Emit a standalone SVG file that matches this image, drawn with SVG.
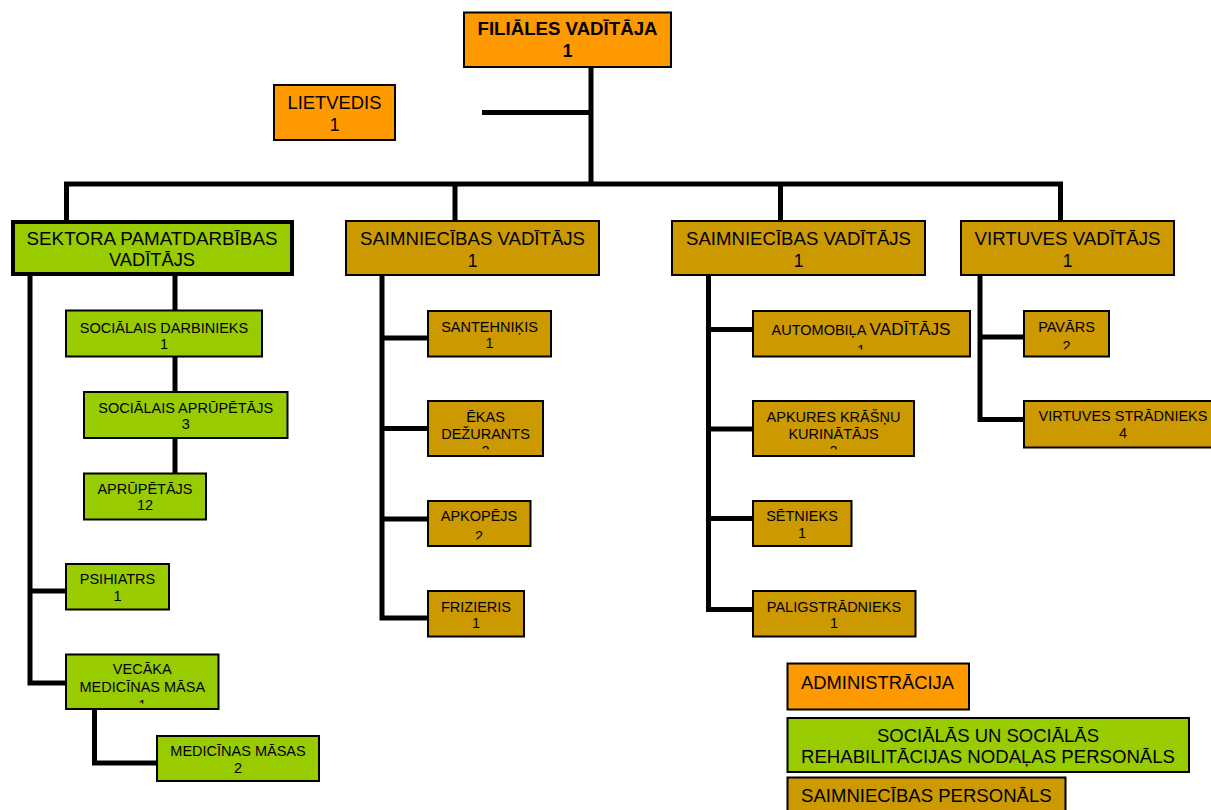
<svg xmlns="http://www.w3.org/2000/svg" width="1211" height="810" viewBox="0 0 1211 810">
<style>
  text { font-family: "Liberation Sans", Arial, sans-serif; fill: #000; text-anchor: middle; }
  .s { font-size: 14.5px; }
  .l { font-size: 17.5px; }
  .b { font-weight: bold; }
  .st { text-anchor: start; }
  .box { stroke: #000; stroke-width: 2; }
  .adm { fill: #FF9900; }
  .soc { fill: #99CC00; }
  .sai { fill: #CC9900; }
  .con { fill: none; stroke: #000; stroke-width: 5; stroke-linejoin: miter; stroke-linecap: butt; }
</style>
<defs>
  <clipPath id="cVec"><rect x="66" y="654" width="153" height="49.5"/></clipPath>
  <clipPath id="cEkas"><rect x="428" y="401" width="115" height="48.5"/></clipPath>
  <clipPath id="cApkop"><rect x="428" y="501" width="103" height="38.5"/></clipPath>
  <clipPath id="cAuto"><rect x="753" y="311" width="217" height="38.5"/></clipPath>
  <clipPath id="cApkur"><rect x="753" y="401" width="161" height="48.5"/></clipPath>
  <clipPath id="cPav"><rect x="1024" y="311" width="85" height="38.5"/></clipPath>
</defs>
<rect width="1211" height="810" fill="#fff"/>

<g id="connectors">
  <path class="con" d="M591,67 V184 M482,112.5 H591"/>
  <path class="con" d="M66.5,221 V184 H1060.5 V221 M455,184 V221 M780.5,184 V221"/>
  <path class="con" d="M175,276 V310 M175,356 V392 M175,438 V473"/>
  <path class="con" d="M30,276 V683 H66 M30,591 H66"/>
  <path class="con" d="M94.5,709 V763 H157"/>
  <path class="con" d="M382,275 V618 H428 M382,338 H428 M382,428.5 H428 M382,519 H428"/>
  <path class="con" d="M708.5,275 V609.5 H753 M708.5,329.5 H753 M708.5,429 H753 M708.5,518.5 H753"/>
  <path class="con" d="M980,275 V419.5 H1024 M980,337 H1024"/>
</g>

<g id="filiales-vaditaja">
  <rect class="box adm" x="464" y="12.5" width="207" height="54.5"/>
  <text class="l b" x="567.5" y="35" textLength="180" lengthAdjust="spacingAndGlyphs">FILIĀLES VADĪTĀJA</text>
  <text class="l b" x="567.5" y="57">1</text>
</g>
<g id="lietvedis">
  <rect class="box adm" x="274" y="85" width="121" height="55"/>
  <text class="l" x="334.5" y="109.3" textLength="94" lengthAdjust="spacingAndGlyphs">LIETVEDIS</text>
  <text class="l" x="334.5" y="130.5">1</text>
</g>

<g id="sektora">
  <rect x="13" y="222" width="279" height="52" class="soc" stroke="#000" stroke-width="4"/>
  <text class="l" x="152" y="245" textLength="251" lengthAdjust="spacingAndGlyphs">SEKTORA PAMATDARBĪBAS</text>
  <text class="l" x="152" y="266" textLength="86" lengthAdjust="spacingAndGlyphs">VADĪTĀJS</text>
</g>
<g id="soc-darbinieks">
  <rect class="box soc" x="66" y="310.5" width="196" height="46"/>
  <text class="s" x="164" y="332.5">SOCIĀLAIS DARBINIEKS</text>
  <text class="s" x="164" y="348.5">1</text>
</g>
<g id="soc-aprupetajs">
  <rect class="box soc" x="84" y="392" width="203.5" height="46"/>
  <text class="s" x="185.75" y="412.7">SOCIĀLAIS APRŪPĒTĀJS</text>
  <text class="s" x="185.75" y="429.3">3</text>
</g>
<g id="aprupetajs">
  <rect class="box soc" x="84" y="473.5" width="122" height="46"/>
  <text class="s" x="145" y="494">APRŪPĒTĀJS</text>
  <text class="s" x="145" y="510">12</text>
</g>
<g id="psihiatrs">
  <rect class="box soc" x="66" y="564" width="103" height="45.5"/>
  <text class="s" x="117.5" y="584.3">PSIHIATRS</text>
  <text class="s" x="117.5" y="601">1</text>
</g>
<g id="vecaka-masa">
  <rect class="box soc" x="66" y="654.5" width="152.5" height="54.5"/>
  <text class="s" x="142.25" y="674.3">VECĀKA</text>
  <text class="s" x="142.25" y="691.7">MEDICĪNAS MĀSA</text>
  <text class="s" x="142.25" y="709.7" clip-path="url(#cVec)">1</text>
</g>
<g id="medicinas-masas">
  <rect class="box soc" x="157" y="736" width="162" height="45"/>
  <text class="s" x="238" y="756">MEDICĪNAS MĀSAS</text>
  <text class="s" x="238" y="772.7">2</text>
</g>

<g id="saimn-vaditajs-1">
  <rect class="box sai" x="346" y="221" width="253" height="54"/>
  <text class="l" x="472.5" y="245" textLength="225" lengthAdjust="spacingAndGlyphs">SAIMNIECĪBAS VADĪTĀJS</text>
  <text class="l" x="472.5" y="266.7">1</text>
</g>
<g id="santehnikis">
  <rect class="box sai" x="428" y="311" width="123" height="45.5"/>
  <text class="s" x="489.5" y="332.3">SANTEHNIĶIS</text>
  <text class="s" x="489.5" y="348">1</text>
</g>
<g id="ekas-dezurants">
  <rect class="box sai" x="428" y="401" width="115" height="55"/>
  <text class="s" x="485.5" y="422">ĒKAS</text>
  <text class="s" x="485.5" y="439.3">DEŽURANTS</text>
  <text class="s" x="485.5" y="456.4" clip-path="url(#cEkas)">2</text>
</g>
<g id="apkopejs">
  <rect class="box sai" x="428" y="501" width="102.5" height="45"/>
  <text class="s" x="479" y="521">APKOPĒJS</text>
  <text class="s" x="479" y="540.5" clip-path="url(#cApkop)">2</text>
</g>
<g id="frizieris">
  <rect class="box sai" x="428" y="591" width="96" height="45.5"/>
  <text class="s" x="476" y="611.7">FRIZIERIS</text>
  <text class="s" x="476" y="628.3">1</text>
</g>

<g id="saimn-vaditajs-2">
  <rect class="box sai" x="672" y="221" width="253" height="54"/>
  <text class="l" x="798.5" y="245" textLength="225" lengthAdjust="spacingAndGlyphs">SAIMNIECĪBAS VADĪTĀJS</text>
  <text class="l" x="798.5" y="266.7">1</text>
</g>
<g id="automobila-vaditajs">
  <rect class="box sai" x="753" y="311" width="217" height="45.5"/>
  <text class="s" x="861" y="335"><tspan>AUTOMOBIĻA </tspan><tspan style="font-size:17.2px">VADĪTĀJS</tspan></text>
  <text class="s" x="861" y="355.4" clip-path="url(#cAuto)">1</text>
</g>
<g id="apkures-kurinatajs">
  <rect class="box sai" x="753" y="401" width="161" height="55"/>
  <text class="s" x="833.5" y="422">APKURES KRĀŠŅU</text>
  <text class="s" x="833.5" y="439.3">KURINĀTĀJS</text>
  <text class="s" x="833.5" y="456.4" clip-path="url(#cApkur)">2</text>
</g>
<g id="setnieks">
  <rect class="box sai" x="753" y="501" width="98.5" height="45"/>
  <text class="s" x="802" y="521">SĒTNIEKS</text>
  <text class="s" x="802" y="537.7">1</text>
</g>
<g id="paligstradnieks">
  <rect class="box sai" x="753" y="591" width="162.5" height="45.5"/>
  <text class="s" x="834" y="611.7">PALIGSTRĀDNIEKS</text>
  <text class="s" x="834" y="628.3">1</text>
</g>

<g id="virtuves-vaditajs">
  <rect class="box sai" x="961" y="221" width="213" height="54"/>
  <text class="l" x="1067.5" y="245" textLength="186" lengthAdjust="spacingAndGlyphs">VIRTUVES VADĪTĀJS</text>
  <text class="l" x="1067.5" y="266.7">1</text>
</g>
<g id="pavars">
  <rect class="box sai" x="1024" y="311" width="85" height="45.5"/>
  <text class="s" x="1066.5" y="332.3">PAVĀRS</text>
  <text class="s" x="1066.5" y="350.5" clip-path="url(#cPav)">2</text>
</g>
<g id="virtuves-stradnieks">
  <rect class="box sai" x="1024" y="401" width="198" height="46.5"/>
  <text class="s" x="1123" y="421">VIRTUVES STRĀDNIEKS</text>
  <text class="s" x="1123" y="438.3">4</text>
</g>

<g id="legend-administracija">
  <rect class="box adm" x="787.5" y="663.5" width="181.5" height="46"/>
  <text class="l st" x="801" y="689" textLength="153" lengthAdjust="spacingAndGlyphs">ADMINISTRĀCIJA</text>
</g>
<g id="legend-socialas">
  <rect class="box soc" x="787.5" y="718" width="401.5" height="54"/>
  <text class="l" x="988" y="741.7" textLength="222" lengthAdjust="spacingAndGlyphs">SOCIĀLĀS UN SOCIĀLĀS</text>
  <text class="l" x="988" y="763.3" textLength="374" lengthAdjust="spacingAndGlyphs">REHABILITĀCIJAS NODAĻAS PERSONĀLS</text>
</g>
<g id="legend-saimniecibas">
  <rect class="box sai" x="787.5" y="777.5" width="278" height="40"/>
  <text class="l st" x="801" y="801.7" textLength="250.7" lengthAdjust="spacingAndGlyphs">SAIMNIECĪBAS PERSONĀLS</text>
</g>
</svg>
